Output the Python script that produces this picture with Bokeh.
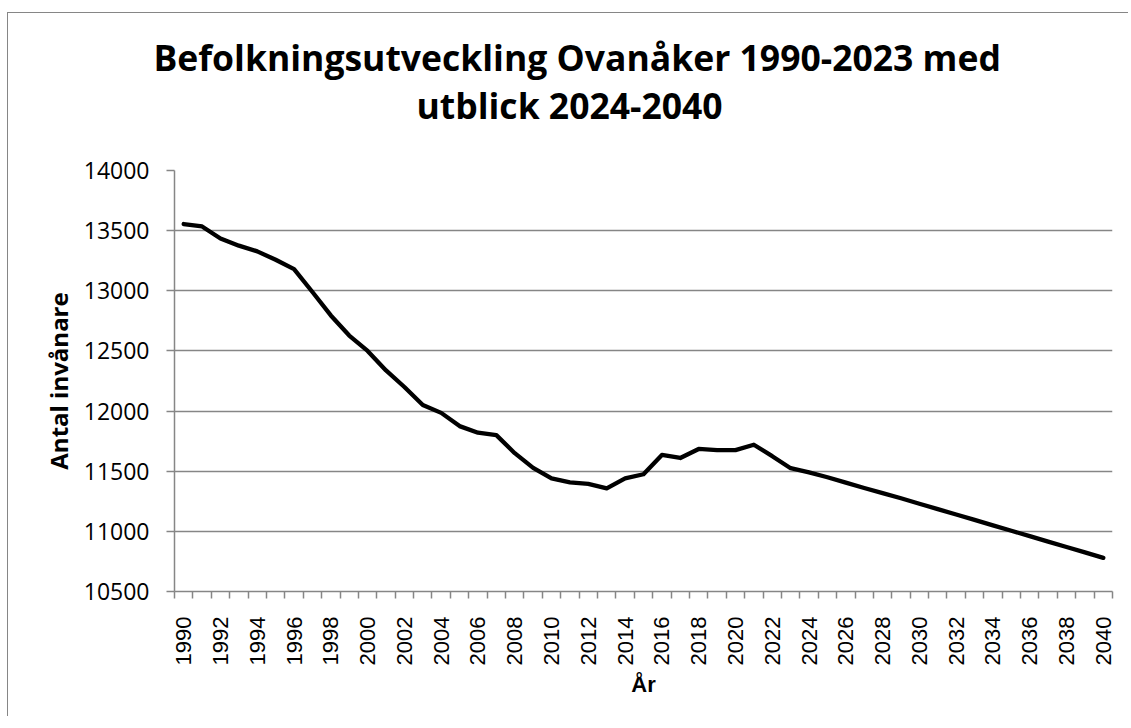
import math
from bokeh.plotting import figure
from bokeh.models import FixedTicker, Title, Range1d
from bokeh.embed import file_html
from bokeh.resources import INLINE

years = list(range(1990, 2041))
population = [
    13555, 13535, 13435, 13375, 13328, 13258, 13180, 12990, 12795, 12628,
    12500, 12338, 12200, 12050, 11985, 11875, 11820, 11800, 11650, 11528,
    11440, 11408, 11395, 11358, 11440, 11475, 11635, 11610, 11685, 11675,
    11675, 11720, 11625, 11525,
    11490, 11450, 11405, 11360, 11318, 11275, 11230, 11185, 11140, 11095,
    11050, 11005, 10960, 10915, 10870, 10825, 10780,
]
y_ticks = [10500, 11000, 11500, 12000, 12500, 13000, 13500, 14000]
x_label_years = list(range(1990, 2041, 2))

title_line1 = "Befolkningsutveckling Ovanåker 1990-2023 med"
title_line2 = "utblick 2024-2040"
x_title = "År"
y_title = "Antal invånare"

GRAY = "#868686"

p = figure(
    frame_width=938, frame_height=421,
    min_border_left=166, min_border_top=157, min_border_right=16, min_border_bottom=125,
    output_backend="svg", toolbar_location=None,
    x_range=Range1d(years[0] - 0.5, years[-1] + 0.5),
    y_range=Range1d(y_ticks[0], y_ticks[-1]),
    background_fill_color="white", border_fill_color="white",
)
p.outline_line_color = None
p.styles = {"border-left": "1px solid #868686", "border-top": "1px solid #868686",
            "margin-top": "12px", "margin-left": "7px"}

p.line(years, population, line_color="black", line_width=4.3, line_join="round", line_cap="round")

# two-line chart title (inner line added first)
t2 = Title(text=title_line2, align="left", offset=242, standoff=84,
           text_font="Open Sans", text_font_style="bold", text_font_size="35.5px", text_color="black")
t1 = Title(text=title_line1, align="left", offset=-21, standoff=-88,
           text_font="Open Sans", text_font_style="bold", text_font_size="35.5px", text_color="black")
p.add_layout(t2, "above")
p.add_layout(t1, "above")

# x axis
xa = p.xaxis[0]
xa.ticker = FixedTicker(ticks=x_label_years, minor_ticks=[y - 0.5 for y in years] + [years[-1] + 0.5])
xa.major_label_orientation = math.pi / 2
xa.major_tick_out = 0
xa.major_tick_in = 0
xa.minor_tick_out = 7
xa.minor_tick_in = 0
xa.minor_tick_line_color = GRAY
xa.minor_tick_line_width = 1.5
xa.axis_line_color = GRAY
xa.axis_line_width = 1.5
xa.major_label_standoff = 18
xa.major_label_text_font = "Liberation Sans"
xa.major_label_text_font_size = "22px"
xa.major_label_text_color = "black"
xa.axis_label = x_title
xa.axis_label_text_font = "Liberation Sans"
xa.axis_label_text_font_style = "bold"
xa.axis_label_text_font_size = "22px"
xa.axis_label_text_color = "black"
xa.axis_label_standoff = 4

# y axis
ya = p.yaxis[0]
ya.ticker = FixedTicker(ticks=y_ticks)
ya.major_tick_out = 8
ya.major_tick_in = 0
ya.minor_tick_out = 0
ya.minor_tick_in = 0
ya.major_tick_line_color = GRAY
ya.major_tick_line_width = 1.5
ya.axis_line_color = GRAY
ya.axis_line_width = 1.5
ya.major_label_standoff = 17
ya.major_label_text_font = "Open Sans"
ya.major_label_text_font_size = "23px"
ya.major_label_text_color = "black"
ya.axis_label = y_title
ya.axis_label_text_font = "Open Sans"
ya.axis_label_text_font_style = "bold"
ya.axis_label_text_font_size = "24px"
ya.axis_label_text_color = "black"
ya.axis_label_standoff = 6

p.xgrid.grid_line_color = None
p.ygrid.grid_line_color = GRAY
p.ygrid.grid_line_width = 1.5
p.ygrid.ticker = FixedTicker(ticks=y_ticks)

open("out.html", "w").write(file_html(p, INLINE))
